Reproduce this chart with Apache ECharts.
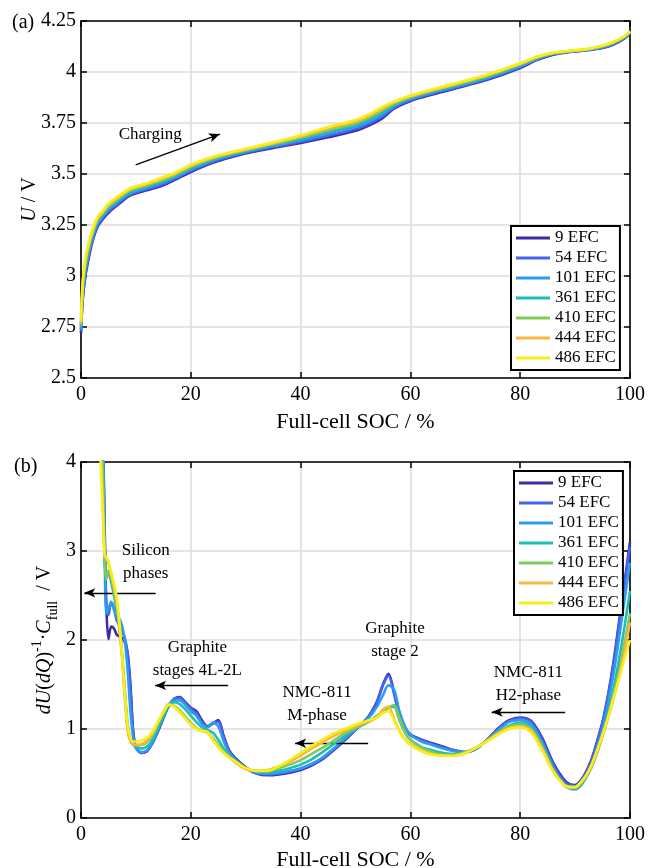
<!DOCTYPE html>
<html>
<head>
<meta charset="utf-8">
<script src="https://cdn.jsdelivr.net/npm/echarts@6/dist/echarts.min.js"></script>
<style>
  html, body { margin: 0; padding: 0; background: #fff; }
  #chart { width: 648px; height: 868px; }
</style>
</head>
<body>
<div id="chart"></div>
<script>
// ---- data ----------------------------------------------------------------
const CYCLES = ['9 EFC', '54 EFC', '101 EFC', '361 EFC', '410 EFC', '444 EFC', '486 EFC'];

// (a) charging voltage vs. full-cell SOC
const SOC_A = [0, 0.3, 0.7, 1.2, 2, 3, 4, 5, 7, 9, 12, 15, 17, 20, 24, 29, 35, 40, 45, 50,
  53, 55, 57, 60, 64, 68, 74, 80, 83, 86, 89, 92, 95, 97, 99, 100];
const U_9 = [2.72, 2.88, 2.98, 3.06, 3.16, 3.24, 3.28, 3.31, 3.355, 3.395, 3.42, 3.445, 3.47, 3.51, 3.555, 3.595, 3.628, 3.652, 3.68, 3.712,
  3.745, 3.775, 3.82, 3.858, 3.89, 3.918, 3.962, 4.02, 4.058, 4.085, 4.098, 4.106, 4.118, 4.135, 4.165, 4.19];
const U_54 = [2.73, 2.89, 2.99, 3.07, 3.17, 3.247, 3.286, 3.317, 3.361, 3.40, 3.425, 3.451, 3.475, 3.515, 3.56, 3.598, 3.632, 3.658, 3.688, 3.72,
  3.753, 3.783, 3.825, 3.862, 3.894, 3.922, 3.966, 4.023, 4.061, 4.087, 4.099, 4.107, 4.12, 4.137, 4.167, 4.192];
const U_101 = [2.74, 2.91, 3.01, 3.09, 3.18, 3.258, 3.294, 3.326, 3.369, 3.407, 3.432, 3.459, 3.482, 3.522, 3.566, 3.603, 3.637, 3.665, 3.698, 3.731,
  3.764, 3.794, 3.832, 3.867, 3.899, 3.927, 3.971, 4.028, 4.064, 4.089, 4.1, 4.108, 4.122, 4.14, 4.169, 4.194];
const U_361 = [2.75, 2.93, 3.03, 3.10, 3.19, 3.268, 3.302, 3.335, 3.377, 3.414, 3.439, 3.467, 3.489, 3.529, 3.572, 3.607, 3.643, 3.673, 3.708, 3.741,
  3.775, 3.805, 3.839, 3.873, 3.904, 3.932, 3.976, 4.033, 4.067, 4.09, 4.101, 4.109, 4.125, 4.142, 4.171, 4.196];
const U_410 = [2.76, 2.94, 3.04, 3.12, 3.20, 3.275, 3.308, 3.341, 3.383, 3.42, 3.445, 3.473, 3.495, 3.535, 3.576, 3.61, 3.647, 3.679, 3.715, 3.749,
  3.784, 3.814, 3.845, 3.877, 3.908, 3.936, 3.98, 4.036, 4.07, 4.092, 4.102, 4.11, 4.126, 4.144, 4.173, 4.197];
const U_444 = [2.77, 2.955, 3.055, 3.13, 3.21, 3.282, 3.314, 3.348, 3.389, 3.425, 3.45, 3.479, 3.50, 3.54, 3.58, 3.614, 3.651, 3.684, 3.723, 3.757,
  3.792, 3.822, 3.85, 3.881, 3.911, 3.939, 3.984, 4.04, 4.072, 4.093, 4.103, 4.111, 4.128, 4.146, 4.175, 4.199];
const U_486 = [2.78, 2.97, 3.07, 3.14, 3.22, 3.29, 3.32, 3.355, 3.395, 3.43, 3.455, 3.485, 3.505, 3.545, 3.585, 3.617, 3.655, 3.69, 3.73, 3.765,
  3.80, 3.83, 3.855, 3.885, 3.915, 3.943, 3.988, 4.043, 4.075, 4.095, 4.104, 4.112, 4.13, 4.148, 4.176, 4.2];

// (b) differential voltage dU(dQ)^-1 * C_full vs. full-cell SOC
const SOC_B = [3.5, 4, 4.3, 4.6, 5, 5.5, 6, 6.5, 7, 7.5, 8, 8.5, 9, 9.5, 10, 11, 12, 13, 14, 15,
  16, 17, 18, 19, 20, 21, 22, 23, 24, 25, 26, 27, 28, 30, 32, 34, 36, 38, 40, 42,
  44, 46, 48, 50, 52, 53, 54, 55, 56, 57, 58, 59, 60, 62, 64, 66, 68, 70, 72, 74,
  76, 78, 80, 82, 84, 86, 88, 89, 90, 91, 92, 93, 94, 95, 96, 97, 98, 99, 100];
const DVA_9 = [6.5, 4.4, 3.3, 2.4, 2.01, 2.15, 2.13, 2.06, 2.04, 2.02, 1.97, 1.85, 1.5, 0.98, 0.8, 0.73, 0.75, 0.84, 0.97, 1.12,
  1.26, 1.34, 1.36, 1.3, 1.24, 1.2, 1.1, 1.03, 1.06, 1.1, 0.92, 0.76, 0.68, 0.57, 0.5, 0.48, 0.49, 0.51, 0.54, 0.59,
  0.66, 0.76, 0.87, 0.99, 1.11, 1.2, 1.32, 1.5, 1.62, 1.42, 1.15, 1.0, 0.94, 0.88, 0.84, 0.8, 0.76, 0.74, 0.78, 0.88,
  1.01, 1.1, 1.13, 1.09, 0.9, 0.62, 0.43, 0.38, 0.37, 0.42, 0.52, 0.66, 0.86, 1.08, 1.38, 1.75, 2.2, 2.65, 3.1];
const DVA_54 = [6.4, 4.35, 3.2, 2.4, 2.28, 2.42, 2.36, 2.22, 2.17, 2.1, 2.02, 1.85, 1.45, 0.96, 0.79, 0.73, 0.75, 0.84, 0.98, 1.13,
  1.27, 1.34, 1.35, 1.29, 1.23, 1.18, 1.08, 1.02, 1.07, 1.08, 0.9, 0.75, 0.67, 0.56, 0.5, 0.49, 0.5, 0.52, 0.55, 0.6,
  0.67, 0.77, 0.88, 1.0, 1.11, 1.2, 1.32, 1.49, 1.6, 1.4, 1.14, 1.0, 0.93, 0.87, 0.83, 0.79, 0.76, 0.74, 0.78, 0.88,
  1.0, 1.09, 1.12, 1.08, 0.88, 0.6, 0.41, 0.37, 0.36, 0.41, 0.51, 0.65, 0.85, 1.07, 1.37, 1.73, 2.17, 2.62, 3.05];
const DVA_101 = [6.3, 4.3, 3.05, 2.3, 2.35, 2.43, 2.34, 2.27, 2.24, 2.15, 1.98, 1.65, 1.2, 0.9, 0.79, 0.74, 0.76, 0.85, 0.99, 1.14,
  1.27, 1.32, 1.32, 1.27, 1.2, 1.15, 1.06, 1.02, 1.07, 1.03, 0.86, 0.73, 0.66, 0.56, 0.51, 0.5, 0.51, 0.53, 0.56, 0.61,
  0.68, 0.78, 0.89, 1.0, 1.1, 1.17, 1.26, 1.38, 1.49, 1.45, 1.2, 1.03, 0.94, 0.86, 0.82, 0.78, 0.75, 0.74, 0.78, 0.88,
  0.99, 1.08, 1.1, 1.05, 0.85, 0.57, 0.38, 0.34, 0.33, 0.38, 0.47, 0.6, 0.79, 1.0, 1.28, 1.62, 2.02, 2.45, 2.87];
const DVA_361 = [5.2, 3.9, 3.0, 2.72, 2.74, 2.65, 2.5, 2.33, 2.12, 1.82, 1.42, 1.05, 0.88, 0.82, 0.8, 0.78, 0.8, 0.88, 1.0, 1.14,
  1.26, 1.3, 1.28, 1.22, 1.15, 1.08, 1.02, 0.99, 0.96, 0.88, 0.78, 0.7, 0.65, 0.56, 0.52, 0.51, 0.53, 0.56, 0.6, 0.66,
  0.74, 0.83, 0.92, 1.0, 1.07, 1.11, 1.15, 1.2, 1.24, 1.25, 1.1, 0.96, 0.88, 0.8, 0.76, 0.73, 0.72, 0.74, 0.79, 0.87,
  0.96, 1.04, 1.07, 1.02, 0.82, 0.55, 0.37, 0.33, 0.32, 0.36, 0.45, 0.57, 0.73, 0.93, 1.17, 1.45, 1.78, 2.15, 2.55];
const DVA_410 = [4.9, 3.75, 2.92, 2.68, 2.78, 2.7, 2.56, 2.4, 2.17, 1.83, 1.38, 1.0, 0.87, 0.83, 0.82, 0.82, 0.85, 0.93, 1.05, 1.18,
  1.27, 1.26, 1.21, 1.14, 1.07, 1.01, 0.98, 0.97, 0.9, 0.82, 0.75, 0.69, 0.64, 0.56, 0.53, 0.53, 0.56, 0.6, 0.65, 0.72,
  0.79, 0.87, 0.95, 1.01, 1.07, 1.1, 1.14, 1.19, 1.24, 1.27, 1.12, 0.97, 0.88, 0.79, 0.74, 0.71, 0.71, 0.74, 0.79, 0.87,
  0.96, 1.03, 1.05, 1.0, 0.8, 0.54, 0.37, 0.34, 0.34, 0.39, 0.47, 0.59, 0.75, 0.93, 1.14, 1.38, 1.65, 1.96, 2.3];
const DVA_444 = [4.3, 3.45, 2.96, 2.92, 2.87, 2.74, 2.6, 2.42, 2.15, 1.78, 1.33, 0.98, 0.86, 0.83, 0.82, 0.83, 0.87, 0.95, 1.07, 1.19,
  1.28, 1.25, 1.19, 1.12, 1.05, 1.0, 0.98, 0.96, 0.88, 0.8, 0.73, 0.68, 0.63, 0.55, 0.53, 0.54, 0.58, 0.63, 0.7, 0.78,
  0.85, 0.92, 0.98, 1.03, 1.08, 1.1, 1.14, 1.22, 1.25, 1.12, 0.98, 0.89, 0.83, 0.76, 0.72, 0.7, 0.7, 0.73, 0.79, 0.87,
  0.95, 1.01, 1.03, 0.98, 0.78, 0.53, 0.37, 0.34, 0.34, 0.39, 0.47, 0.58, 0.74, 0.92, 1.12, 1.34, 1.58, 1.87, 2.2];
const DVA_486 = [4.1, 3.4, 2.95, 2.93, 2.88, 2.76, 2.63, 2.48, 2.2, 1.8, 1.38, 1.03, 0.9, 0.86, 0.86, 0.87, 0.9, 0.97, 1.08, 1.19,
  1.27, 1.25, 1.19, 1.12, 1.05, 1.0, 0.98, 0.97, 0.88, 0.8, 0.73, 0.68, 0.64, 0.56, 0.53, 0.53, 0.58, 0.65, 0.73, 0.81,
  0.88, 0.95, 1.0, 1.05, 1.09, 1.11, 1.13, 1.18, 1.2, 1.1, 0.97, 0.88, 0.82, 0.75, 0.71, 0.7, 0.7, 0.73, 0.79, 0.86,
  0.94, 1.0, 1.02, 0.96, 0.76, 0.52, 0.37, 0.35, 0.35, 0.4, 0.48, 0.6, 0.76, 0.94, 1.13, 1.35, 1.57, 1.79, 2.0];

// axis ticks
const SOC_TICKS = [0, 20, 40, 60, 80, 100];
const U_TICKS = [2.5, 2.75, 3, 3.25, 3.5, 3.75, 4, 4.25];
const DVA_TICKS = [0, 1, 2, 3, 4];

const U_SERIES = [U_9, U_54, U_101, U_361, U_410, U_444, U_486];
const DVA_SERIES = [DVA_9, DVA_54, DVA_101, DVA_361, DVA_410, DVA_444, DVA_486];

// annotations (data coordinates)
const NOTES_A = [{ text: 'Charging', at: [12.6, 3.693] }];
const ARROWS_A = [[[9.96, 3.545], [25.3, 3.696]]];
const NOTES_B = [
  { text: 'Silicon\nphases', at: [11.8, 2.875] },
  { text: 'Graphite\nstages 4L-2L', at: [21.2, 1.79] },
  { text: 'Graphite\nstage 2', at: [57.2, 1.995] },
  { text: 'NMC-811\nM-phase', at: [43.0, 1.285] },
  { text: 'NMC-811\nH2-phase', at: [81.5, 1.51] }
];
const ARROWS_B = [
  [[13.6, 2.53], [0.6, 2.53]],
  [[26.8, 1.49], [13.5, 1.49]],
  [[52.3, 0.84], [39.0, 0.84]],
  [[88.2, 1.19], [74.8, 1.19]]
];

// ---- styling -------------------------------------------------------------
const FONT = 'Liberation Serif';
const COLORS = ['#3d2ba6', '#4662f2', '#2e9ced', '#1fbdb3', '#7fcb5a', '#fbb63f', '#f7ef16'];
const AXIS_LINE = { show: true, onZero: false, lineStyle: { color: '#000', width: 1.6 } };
const AXIS_TICK = { show: true, inside: true, length: 6, lineStyle: { color: '#000', width: 1.5 } };
const GRID_LINE = { show: true, lineStyle: { color: '#dddddd', width: 1.6 } };
const LABEL = { fontFamily: FONT, fontSize: 20, color: '#000' };
const NAME_RICH = {
  n: { fontFamily: FONT, fontSize: 20, color: '#000', lineHeight: 30 },
  i: { fontFamily: FONT, fontSize: 20, color: '#000', fontStyle: 'italic', lineHeight: 30 },
  sup: { fontFamily: FONT, fontSize: 14, color: '#000', lineHeight: 13, verticalAlign: 'top' },
  sub: { fontFamily: FONT, fontSize: 14, color: '#000', lineHeight: 13, verticalAlign: 'bottom' }
};

const range = t => ({ min: t[0], max: t[t.length - 1], interval: t[1] - t[0] });

function xAxes(gridIndex, nameGap) {
  return [
    Object.assign({
      type: 'value', gridIndex, position: 'bottom',
      axisLine: AXIS_LINE, axisTick: AXIS_TICK, splitLine: GRID_LINE,
      axisLabel: Object.assign({ margin: 7 }, LABEL),
      name: 'Full-cell SOC / %', nameLocation: 'middle', nameGap,
      nameMoveOverlap: false,
      nameTextStyle: { fontFamily: FONT, fontSize: 22, color: '#000' }
    }, range(SOC_TICKS)),
    Object.assign({
      type: 'value', gridIndex, position: 'top',
      axisLine: AXIS_LINE, axisTick: AXIS_TICK, splitLine: { show: false },
      axisLabel: { show: false }
    }, range(SOC_TICKS))
  ];
}

function yAxes(gridIndex, ticks, name, nameGap) {
  return [
    Object.assign({
      type: 'value', gridIndex, position: 'left',
      axisLine: AXIS_LINE, axisTick: AXIS_TICK, splitLine: GRID_LINE,
      axisLabel: Object.assign({ margin: 5 }, LABEL),
      name, nameLocation: 'middle', nameGap, nameRotate: 90,
      nameMoveOverlap: false,
      nameTextStyle: { rich: NAME_RICH }
    }, range(ticks)),
    Object.assign({
      type: 'value', gridIndex, position: 'right',
      axisLine: AXIS_LINE, axisTick: AXIS_TICK, splitLine: { show: false },
      axisLabel: { show: false }
    }, range(ticks))
  ];
}

function curveSeries(socs, rows, axisIndex) {
  return rows.map((vals, i) => ({
    type: 'line', name: CYCLES[i],
    xAxisIndex: axisIndex, yAxisIndex: axisIndex,
    data: socs.map((s, k) => [s, vals[k]]),
    showSymbol: false, smooth: 0.3, clip: true, z: 2 + i,
    lineStyle: { color: COLORS[i], width: 2.6 },
    itemStyle: { color: COLORS[i] }
  }));
}

function noteSeries(notes, arrows, axisIndex) {
  return {
    type: 'line', xAxisIndex: axisIndex, yAxisIndex: axisIndex, data: [],
    silent: true, z: 20,
    markPoint: {
      symbol: 'circle', symbolSize: 0, silent: true,
      label: {
        show: true, position: 'inside', fontFamily: FONT, fontSize: 17,
        color: '#000', lineHeight: 23, align: 'center'
      },
      data: notes.map(n => ({ coord: n.at, value: n.text, label: { formatter: n.text } }))
    },
    markLine: {
      silent: true, symbol: ['none', 'arrow'], symbolSize: [7, 11],
      label: { show: false },
      lineStyle: { color: '#000', width: 1.3, type: 'solid' },
      emphasis: { disabled: true },
      data: arrows.map(a => [{ coord: a[0] }, { coord: a[1] }])
    }
  };
}

function legend(left, top) {
  return {
    orient: 'vertical', left, top, data: CYCLES, selectedMode: false,
    icon: 'rect', itemWidth: 34, itemHeight: 3, itemGap: 0,
    padding: [2, 4, 2, 5], borderColor: '#000', borderWidth: 2,
    backgroundColor: '#fff', z: 30,
    textStyle: { fontFamily: FONT, fontSize: 17, color: '#000', lineHeight: 20 }
  };
}

const chart = echarts.init(document.getElementById('chart'), null, { renderer: 'canvas' });
chart.setOption({
  animation: false,
  backgroundColor: '#fff',
  title: [
    { text: '(a)', left: 7, top: 8, textStyle: { fontFamily: FONT, fontSize: 20, fontWeight: 'normal', color: '#000' } },
    { text: '(b)', left: 9, top: 452, textStyle: { fontFamily: FONT, fontSize: 20, fontWeight: 'normal', color: '#000' } }
  ],
  grid: [
    { left: 81, right: 18, top: 21, height: 357, outerBoundsMode: 'none' },
    { left: 81, right: 18, top: 462, height: 356, outerBoundsMode: 'none' }
  ],
  xAxis: [...xAxes(0, 33), ...xAxes(1, 31)],
  yAxis: [
    ...yAxes(0, U_TICKS, '{i|U}{n| / V}', 36),
    ...yAxes(1, DVA_TICKS, '{i|dU}{n|(}{i|dQ}{n|)}{sup|-1}{n|·}{i|C}{sub|full}{n|  / V}', 21)
  ],
  legend: [legend(511, 226), legend(514, 471)],
  series: [
    ...curveSeries(SOC_A, U_SERIES, 0),
    noteSeries(NOTES_A, ARROWS_A, 0),
    ...curveSeries(SOC_B, DVA_SERIES, 2),
    noteSeries(NOTES_B, ARROWS_B, 2)
  ]
});
</script>
</body>
</html>
